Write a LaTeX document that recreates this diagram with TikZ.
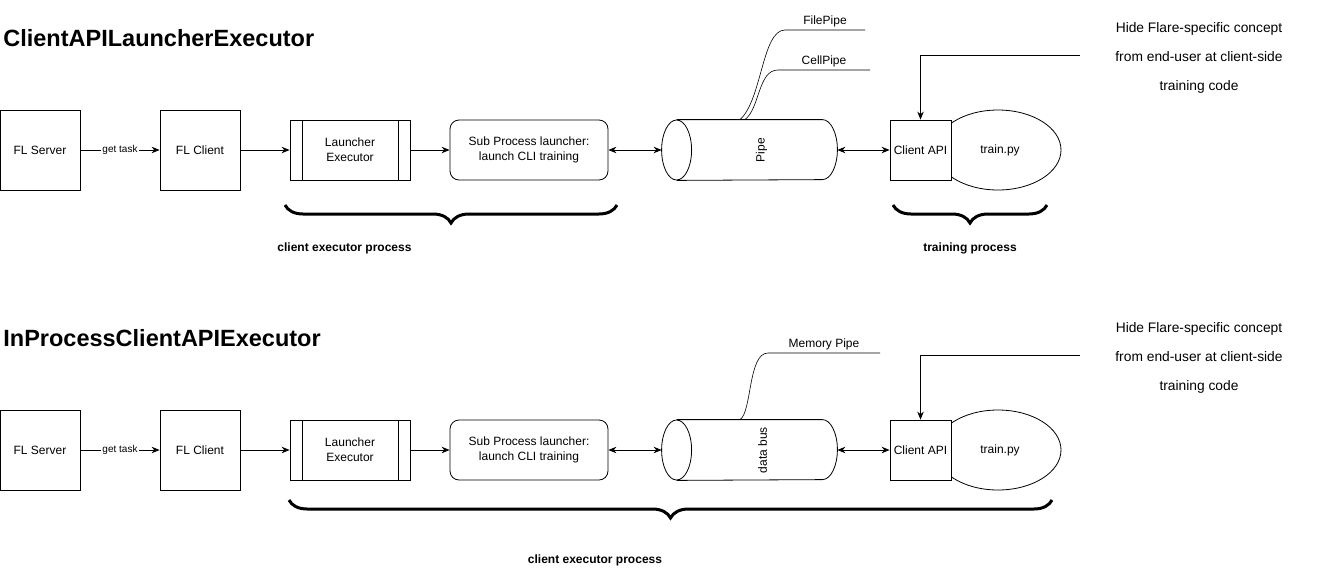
\documentclass[tikz,border=0pt]{standalone}
\usepackage{fontspec}
\setmainfont{Liberation Sans}
\usetikzlibrary{arrows.meta,shapes.geometric,decorations.pathreplacing}

\tikzset{
  box/.style={draw, fill=white, minimum width=80pt, minimum height=80pt, inner sep=0pt, font=\fontsize{12}{15}\selectfont},
  procbox/.style={draw, fill=white, minimum width=120pt, minimum height=60pt, inner sep=0pt, align=center, font=\fontsize{12}{15}\selectfont,
    path picture={\draw ([xshift=12pt]path picture bounding box.north west) -- ([xshift=12pt]path picture bounding box.south west)
      ([xshift=-12pt]path picture bounding box.north east) -- ([xshift=-12pt]path picture bounding box.south east);}},
  subbox/.style={draw, rounded corners=9pt, minimum width=158pt, minimum height=60pt, inner sep=0pt, align=center, font=\fontsize{12}{15}\selectfont},
  apibox/.style={draw, fill=white, minimum width=61pt, minimum height=60pt, inner sep=0pt, font=\fontsize{12}{15}\selectfont},
  trainell/.style={draw, ellipse, minimum width=126pt, minimum height=80pt, inner sep=0pt},
  pipebody/.style={minimum width=175pt, minimum height=60pt, inner sep=0pt},
  arr/.style={-{Stealth[length=8pt,width=6.5pt]}},
  darr/.style={{Stealth[length=8pt,width=6.5pt]}-{Stealth[length=8pt,width=6.5pt]}},
  bracket/.style={decorate, decoration={brace, mirror, amplitude=18pt}, line width=3pt},
  title/.style={anchor=base west, inner sep=0pt, font=\fontsize{23.5}{28}\selectfont\bfseries},
  note/.style={align=center, inner sep=0pt, font=\fontsize{13.8}{29}\selectfont},
  tag/.style={inner sep=0pt, font=\fontsize{12}{14}\selectfont\bfseries},
  plabel/.style={inner sep=0pt, font=\fontsize{12}{14}\selectfont},
}

\begin{document}
\begin{tikzpicture}[x=1pt, y=1pt, line width=0.8pt]
  \useasboundingbox (0,0) rectangle (1320,-571);

  % ClientAPILauncherExecutor
  \node[title] (titleA) at (3,-46) {ClientAPILauncherExecutor};
  \node[box] (srvA) at (40,-150) {FL Server};
  \node[box] (cliA) at (200,-150) {FL Client};
  \node[procbox] (lexA) at (350,-150) {Launcher\\Executor};
  \node[subbox] (subA) at (529,-150) {Sub Process launcher:\\launch CLI training};
  \node[pipebody] (pipeA) at (749.5,-150) {};
  \draw ([xshift=15pt]pipeA.north west) -- ([xshift=-15pt]pipeA.north east)
    arc[start angle=90, end angle=-90, x radius=15pt, y radius=30pt] -- ([xshift=15pt]pipeA.south west);
  \draw ([xshift=15pt]pipeA.west) ellipse[x radius=15pt, y radius=30pt];
  \node[plabel, rotate=90] (pipeTxtA) at ([xshift=12pt]pipeA.center) {Pipe};
  \node[trainell, font=\fontsize{12}{14}\selectfont] (trainA) at (998,-150) {\hspace*{4pt}train.py};
  \node[apibox] (capiA) at (920.5,-150) {Client API};
  \node[note] (hideTxtA) at (1199,-58) {Hide Flare-specific concept\\from end-user at client-side\\training code};
  \coordinate (hideA) at (1080,-55);
  \coordinate (fileEnd) at (865,-30);
  \coordinate (cellEnd) at (870,-70);

  \draw[arr] (srvA) -- (cliA) node[midway, fill=white, inner sep=1pt, font=\fontsize{10}{12}\selectfont] (getA) {get task};
  \draw[arr] (cliA) -- (lexA);
  \draw[arr] (lexA) -- (subA);
  \draw[darr] (subA) -- (pipeA);
  \draw[darr] (pipeA) -- (capiA);
  \draw[arr] (hideA) -| (capiA);
  \draw[line width=0.6pt] ([xshift=-9.5pt]pipeA.north) .. controls (762,-100) and (762,-30) .. (785,-30)
    -- (fileEnd) node[midway, above=3pt, plabel] (fileTxt) {FilePipe};
  \draw[line width=0.6pt] ([xshift=-4.5pt]pipeA.north) .. controls (760,-108) and (758,-70) .. (778,-70)
    -- (cellEnd) node[midway, above=3pt, plabel] (cellTxt) {CellPipe};

  \draw[bracket] (285,-205) -- (617,-205);
  \draw[bracket] (893,-205) -- (1047,-205);
  \node[tag] (tagA) at (344.5,-248) {client executor process};
  \node[tag] (tagTrain) at (970,-248) {training process};

  % InProcessClientAPIExecutor
  \node[title] (titleB) at (3,-346) {InProcessClientAPIExecutor};
  \node[box] (srvB) at (40,-450) {FL Server};
  \node[box] (cliB) at (200,-450) {FL Client};
  \node[procbox] (lexB) at (350,-450) {Launcher\\Executor};
  \node[subbox] (subB) at (529,-450) {Sub Process launcher:\\launch CLI training};
  \node[pipebody] (pipeB) at (749.5,-450) {};
  \draw ([xshift=15pt]pipeB.north west) -- ([xshift=-15pt]pipeB.north east)
    arc[start angle=90, end angle=-90, x radius=15pt, y radius=30pt] -- ([xshift=15pt]pipeB.south west);
  \draw ([xshift=15pt]pipeB.west) ellipse[x radius=15pt, y radius=30pt];
  \node[plabel, rotate=90] (pipeTxtB) at ([xshift=13pt]pipeB.center) {data bus};
  \node[trainell, font=\fontsize{12}{14}\selectfont] (trainB) at (998,-450) {\hspace*{4pt}train.py};
  \node[apibox] (capiB) at (920.5,-450) {Client API};
  \node[note] (hideTxtB) at (1199,-358) {Hide Flare-specific concept\\from end-user at client-side\\training code};
  \coordinate (hideB) at (1080,-355);
  \coordinate (memEnd) at (880,-353);

  \draw[arr] (srvB) -- (cliB) node[midway, fill=white, inner sep=1pt, font=\fontsize{10}{12}\selectfont] (getB) {get task};
  \draw[arr] (cliB) -- (lexB);
  \draw[arr] (lexB) -- (subB);
  \draw[darr] (subB) -- (pipeB);
  \draw[darr] (pipeB) -- (capiB);
  \draw[arr] (hideB) -| (capiB);
  \draw[line width=0.6pt] ([xshift=-9.5pt]pipeB.north) .. controls (752,-412) and (748,-353) .. (768,-353)
    -- (memEnd) node[midway, above=3pt, plabel] (memTxt) {Memory Pipe};

  \draw[bracket] (289,-500) -- (1052,-500);
  \node[tag] (tagB) at (595,-560) {client executor process};
\end{tikzpicture}
\end{document}
